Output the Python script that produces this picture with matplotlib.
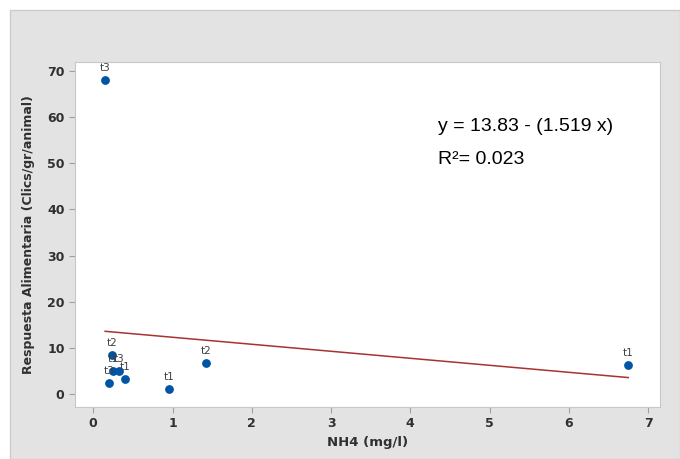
import matplotlib.pyplot as plt
from matplotlib.patches import Rectangle

# data
nh4 = [0.15, 0.24, 0.20, 0.25, 0.32, 0.40, 0.96, 1.42, 6.75]
resp = [68.0, 8.5, 2.4, 5.0, 5.1, 3.3, 1.1, 6.8, 6.4]
labels = ["t3", "t2", "t3", "t1", "t3", "t1", "t1", "t2", "t1"]
intercept = 13.83
slope = -1.519
r2 = 0.023

fig = plt.figure(figsize=(6.8, 4.59), dpi=100)
fig.patch.set_facecolor("white")

# grey panel behind the plot
fig.patches.append(Rectangle((10/680, 0), 1 - 10/680, 1 - 10/459, transform=fig.transFigure,
                             facecolor="#E3E3E3", edgecolor="#CCCCCC", linewidth=1, zorder=0))

ax = fig.add_axes([75/680, 1 - 407/459, (660-75)/680, (407-62)/459])
ax.set_zorder(2)
ax.set_facecolor("white")

ax.scatter(nh4, resp, s=28, color="#0054A6", zorder=3)
for x, y, t in zip(nh4, resp, labels):
    ax.annotate(t, (x, y), xytext=(0, 5), textcoords="offset points",
                ha="center", va="bottom", fontsize=7.5, color="#404040")

xl = [min(nh4), max(nh4)]
ax.plot(xl, [intercept + slope*v for v in xl], color="#A83232", linewidth=1.1, zorder=2)

ax.text(0.621, 0.80, "y = 13.83 - (1.519 x)", transform=ax.transAxes,
        fontsize=14, family="Liberation Sans", color="black")
ax.text(0.621, 0.705, "R\u00b2= %.3f" % r2, transform=ax.transAxes,
        fontsize=14, family="Liberation Sans", color="black")

ax.set_xlim(-0.23, 7.15)
ax.set_ylim(-2.8, 71.95)
ax.set_xticks(range(0, 8))
ax.set_yticks(range(0, 71, 10))
for s in ax.spines.values():
    s.set_color("#C8C8C8")
ax.tick_params(colors="#A0A0A0", labelcolor="#303030", labelsize=9, length=4)
for lb in ax.get_xticklabels() + ax.get_yticklabels():
    lb.set_fontweight("bold")

ax.set_xlabel("NH4 (mg/l)", fontsize=9.5, fontweight="bold", color="#303030", labelpad=4)
ax.set_ylabel("Respuesta Alimentaria (Clics/gr/animal)", fontsize=9, fontweight="bold",
              color="#303030", labelpad=9)

plt.savefig("out.png", dpi=100)
